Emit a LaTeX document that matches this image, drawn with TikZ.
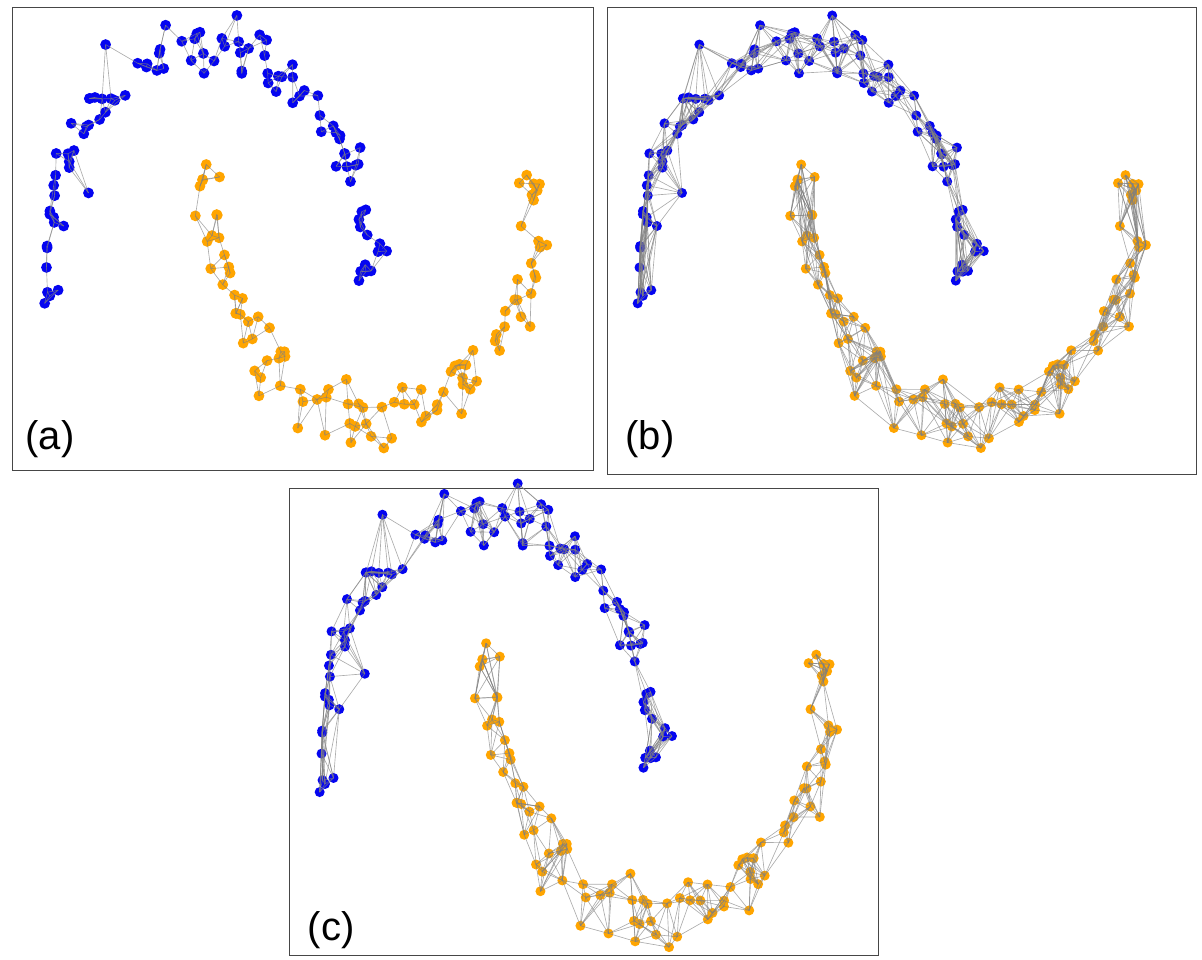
\documentclass[tikz,border=0pt]{standalone}
\usepackage{fontspec}
\setmainfont{Liberation Sans}
\newcount\mci \newcount\mcj \newcount\mround \newcount\mjlo \newcount\mjhi
\newcount\mkk \newcount\mW \newcount\mkind
\newdimen\mdprev \newdimen\mdcur \newdimen\mdtmp \newdimen\mdth
\mW=15
\definecolor{dotblue}{RGB}{5,5,240}
\definecolor{dotorange}{RGB}{255,165,0}
\definecolor{framegray}{RGB}{70,70,70}
\tikzset{
  edge/.style={draw={rgb,255:red,128;green,128;blue,128}, line width=0.65pt, opacity=0.65},
  bdot/.style={fill=dotblue},
  odot/.style={fill=dotorange},
  frame/.style={draw=framegray, line width=1pt},
  lab/.style={font=\fontsize{40}{44}\selectfont, inner sep=0pt, anchor=center}
}
% ---------- data generation ----------
\def\mnoise{0.06}
\def\genloop{%
  \ifnum\mci>100 \else
    \pgfmathsetmacro\mytheta{(\the\mci-1)*1.8181818}%
    \pgfmathsetmacro\mnx{\mnoise*(rand+rand+rand)}%
    \pgfmathsetmacro\mny{\mnoise*(rand+rand+rand)}%
    \ifnum\mkind=0
      \pgfmathsetmacro\mux{cos(\mytheta)+\mnx}%
      \pgfmathsetmacro\muy{sin(\mytheta)+\mny}%
    \else
      \pgfmathsetmacro\mux{1-cos(\mytheta)+\mnx}%
      \pgfmathsetmacro\muy{0.5-sin(\mytheta)+\mny}%
    \fi
    \expandafter\xdef\csname px\moon\the\mci\endcsname{\mux}%
    \expandafter\xdef\csname py\moon\the\mci\endcsname{\muy}%
    \advance\mci 1
    \expandafter\genloop
  \fi}
\def\distloop{%
  \ifnum\mci>100 \else
    \mcj=\mci \advance\mcj 1
    \mjhi=\mci \advance\mjhi\mW \ifnum\mjhi>100 \mjhi=100 \fi
    \distinner
    \advance\mci 1
    \expandafter\distloop
  \fi}
\def\distinner{%
  \ifnum\mcj>\mjhi \else
    \edef\mxa{\csname px\moon\the\mci\endcsname}\edef\mxb{\csname px\moon\the\mcj\endcsname}%
    \edef\mya{\csname py\moon\the\mci\endcsname}\edef\myb{\csname py\moon\the\mcj\endcsname}%
    \pgfmathsetmacro\mydd{veclen(100*(\mxa-(\mxb)),100*(\mya-(\myb)))}%
    \expandafter\xdef\csname d\moon-\the\mci-\the\mcj\endcsname{\mydd}%
    \expandafter\xdef\csname d\moon-\the\mcj-\the\mci\endcsname{\mydd}%
    \advance\mcj 1
    \expandafter\distinner
  \fi}
% ---------- k nearest neighbour thresholds ----------
\def\thloop{%
  \ifnum\mci>100 \else
    \mjlo=\mci \advance\mjlo-\mW \ifnum\mjlo<1 \mjlo=1 \fi
    \mjhi=\mci \advance\mjhi\mW \ifnum\mjhi>100 \mjhi=100 \fi
    \mdprev=-1pt \mround=1
    \roundloop
    \expandafter\xdef\csname th\moon\the\mci\endcsname{\the\mdprev}%
    \advance\mci 1
    \expandafter\thloop
  \fi}
\def\roundloop{%
  \ifnum\mround>\mkk \else
    \mdcur=\maxdimen
    \mcj=\mjlo \scanloop
    \mdprev=\mdcur
    \advance\mround 1
    \expandafter\roundloop
  \fi}
\def\scanloop{%
  \ifnum\mcj>\mjhi \else
    \ifnum\mcj=\mci \else
      \mdtmp=\csname d\moon-\the\mci-\the\mcj\endcsname pt\relax
      \ifdim\mdtmp>\mdprev \ifdim\mdtmp<\mdcur \mdcur=\mdtmp \fi\fi
    \fi
    \advance\mcj 1
    \expandafter\scanloop
  \fi}
% ---------- drawing ----------
\def\coordloop{%
  \ifnum\mci>100 \else
    \pgfmathsetmacro\mcx{\oX+\sX*(\csname px\moon\the\mci\endcsname)}%
    \pgfmathsetmacro\mcy{\oY-\sY*(\csname py\moon\the\mci\endcsname)}%
    \edef\tmpc{\noexpand\coordinate (\pfx\moon\the\mci) at (\mcx,\mcy);}\tmpc
    \advance\mci 1
    \expandafter\coordloop
  \fi}
\def\dotloop{%
  \ifnum\mci>100 \else
    \edef\tmpc{\noexpand\fill[\dotstyle] (\pfx\moon\the\mci) circle[radius=\dotrad];}\tmpc
    \advance\mci 1
    \expandafter\dotloop
  \fi}
\def\edgeloop{%
  \ifnum\mci>100 \else
    \mcj=\mci \advance\mcj 1
    \mjhi=\mci \advance\mjhi\mW \ifnum\mjhi>100 \mjhi=100 \fi
    \edgeinner
    \advance\mci 1
    \expandafter\edgeloop
  \fi}
\def\edgeinner{%
  \ifnum\mcj>\mjhi \else
    \mdtmp=\csname d\moon-\the\mci-\the\mcj\endcsname pt\relax
    \mdth=\csname th\moon\the\mci\endcsname\relax
    \ifdim\mdtmp>\mdth
      \mdth=\csname th\moon\the\mcj\endcsname\relax
    \fi
    \ifdim\mdtmp>\mdth \else
      \edef\tmpc{\noexpand\draw[edge] (\pfx\moon\the\mci) -- (\pfx\moon\the\mcj);}\tmpc
    \fi
    \advance\mcj 1
    \expandafter\edgeinner
  \fi}
\newcommand\drawpanel[7]{% prefix, X0, Y0, SX, SY, k, dot radius
  \def\pfx{#1}\def\oX{#2}\def\oY{#3}\def\sX{#4}\def\sY{#5}\mkk=#6\relax\def\dotrad{#7}%
  \def\moon{B}\mci=1 \coordloop \mci=1 \thloop
  \def\moon{O}\mci=1 \coordloop \mci=1 \thloop
  \def\moon{B}\def\dotstyle{bdot}\mci=1 \dotloop
  \def\moon{O}\def\dotstyle{odot}\mci=1 \dotloop
  \def\moon{B}\mci=1 \edgeloop
  \def\moon{O}\mci=1 \edgeloop
}
\begin{document}
\begin{tikzpicture}[x=1pt,y=-1pt]
\useasboundingbox (0,0) rectangle (1202,960);
\pgfmathsetseed{2718}
\def\moon{B}\mkind=0 \mci=1 \genloop
\def\moon{O}\mkind=1 \mci=1 \genloop
\def\moon{B}\mci=1 \distloop
\def\moon{O}\mci=1 \distloop
% frames
\draw[frame] (12,8) rectangle (593,470);
\draw[frame] (607,8) rectangle (1196,474);
\draw[frame] (289,488) rectangle (878,955);
% panels
\drawpanel{a}{210}{293}{165}{250}{3}{5.4pt}
\drawpanel{b}{805}{293}{167}{250}{10}{5pt}
\drawpanel{c}{490}{781}{170}{268}{7}{5pt}
% labels
\node[lab] (la) at (50,439) {(a)};
\node[lab] (lb) at (650,439) {(b)};
\node[lab] (lc) at (331,930) {(c)};
\end{tikzpicture}
\end{document}
